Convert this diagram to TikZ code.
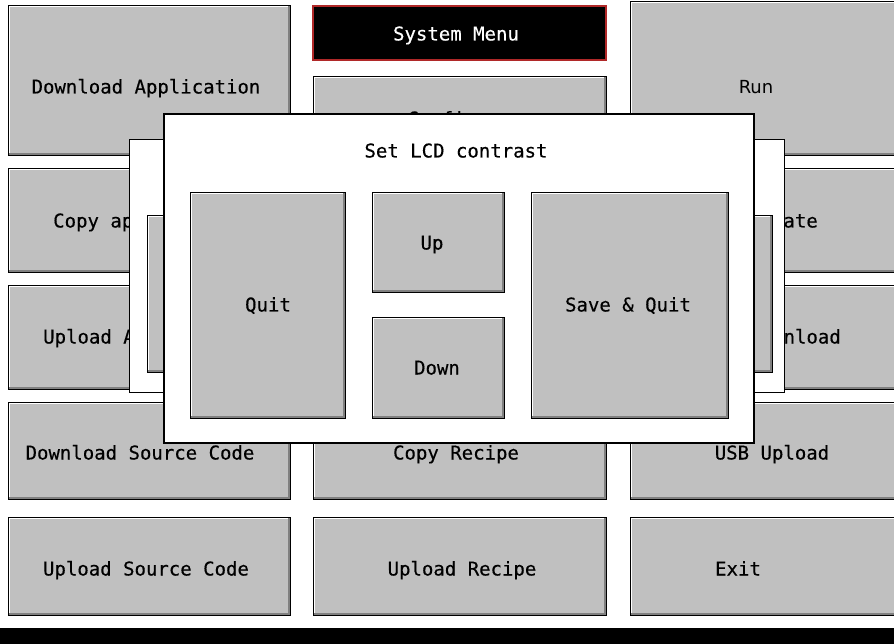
\documentclass[tikz,border=0pt]{standalone}
\usepackage{fontspec}
\newfontfamily\hmimono[FakeBold=0.35]{DejaVu Sans Mono}
\newfontfamily\hmisans{DejaVu Sans}
\definecolor{btngrey}{RGB}{192,192,192}
\definecolor{btnshadow}{RGB}{128,128,128}
\definecolor{menured}{RGB}{176,40,40}
\tikzset{
  hbtn/.style={rectangle, draw=black, line width=1pt, fill=btngrey, inner sep=0pt, outer sep=0pt, anchor=north west,
    path picture={
      \draw[white, line width=3pt] (path picture bounding box.south west) -- (path picture bounding box.north west) -- (path picture bounding box.north east);
      \draw[btnshadow, line width=5pt] (path picture bounding box.south west) -- (path picture bounding box.south east) -- (path picture bounding box.north east);
    }},
  lbl/.style={font=\hmimono\fontsize{19}{19}\selectfont, inner sep=0pt, text height=13pt, text depth=0pt},
  dlg/.style={rectangle, draw=black, fill=white, inner sep=0pt, outer sep=0pt, anchor=north west},
  menubox/.style={rectangle, draw=menured, fill=black, line width=1.2pt, inner sep=0pt, outer sep=0pt, anchor=north west},
}
\begin{document}
\begin{tikzpicture}[x=1pt,y=-1pt]
\useasboundingbox (0,0) rectangle (894,644);
\clip (0,0) rectangle (894,644);
\fill[white] (0,0) rectangle (894,644);

% ---- left column
\node[hbtn, minimum width=282pt, minimum height=150pt] (b-dlapp) at (8,6) {};
\node[hbtn, minimum width=282pt, minimum height=104pt] (b-cpapp) at (8,169) {};
\node[hbtn, minimum width=282pt, minimum height=103pt] (b-upapp) at (8,286) {};
\node[hbtn, minimum width=282pt, minimum height=97pt] (b-dlsrc) at (8,402) {};
\node[hbtn, minimum width=282pt, minimum height=98pt] (b-upsrc) at (8,517) {};
\node[lbl] (t-dlapp) at (146,87) {Download Application};
\node[lbl, anchor=west] (t-cpapp) at (53,221) {Copy application};
\node[lbl, anchor=west] (t-upapp) at (43,337) {Upload Application};
\node[lbl] (t-dlsrc) at (140,453) {Download Source Code};
\node[lbl] (t-upsrc) at (146,569) {Upload Source Code};

% ---- middle column
\node[menubox, minimum width=293pt, minimum height=54pt] (b-menu) at (313,6) {};
\node[lbl, text=white] (t-menu) at (456,34) {System Menu};
\node[hbtn, minimum width=293pt, minimum height=79pt] (b-conf) at (313,77) {};
\node[lbl] (t-conf) at (459,119) {Configure};
\node[hbtn, minimum width=293pt, minimum height=97pt] (b-cprec) at (313,402) {};
\node[hbtn, minimum width=293pt, minimum height=98pt] (b-uprec) at (313,517) {};
\node[lbl] (t-cprec) at (456,453) {Copy Recipe};
\node[lbl] (t-uprec) at (462,569) {Upload Recipe};

% ---- right column
\node[hbtn, minimum width=280pt, minimum height=154pt] (b-run) at (630,2) {};
\node[hbtn, minimum width=280pt, minimum height=104pt] (b-usbupd) at (630,169) {};
\node[hbtn, minimum width=280pt, minimum height=103pt] (b-usbdl) at (630,286) {};
\node[hbtn, minimum width=280pt, minimum height=97pt] (b-usbup) at (630,402) {};
\node[hbtn, minimum width=280pt, minimum height=98pt] (b-exit) at (630,517) {};
\node[lbl, font=\hmisans\fontsize{18}{18}\selectfont] (t-run) at (756,87) {Run};
\node[lbl, anchor=east] (t-usbupd) at (818,221) {USB Update};
\node[lbl, anchor=east] (t-usbdl) at (841,337) {USB Download};
\node[lbl] (t-usbup) at (772,453) {USB Upload};
\node[lbl] (t-exit) at (738,569) {Exit};

% ---- bottom bar
\fill[black] (0,628) rectangle (894,644);

% ---- back dialog
\node[dlg, line width=1pt, minimum width=655pt, minimum height=252pt] (d-back) at (129,140) {};
\node[hbtn, minimum width=153pt, minimum height=156pt] (b-backl) at (147,216) {};
\node[hbtn, minimum width=172pt, minimum height=156pt] (b-backr) at (600,216) {};

% ---- front dialog
\node[dlg, line width=1.5pt, minimum width=590pt, minimum height=329pt] (d-lcd) at (164,114) {};
\node[lbl] (t-lcd) at (456,151) {Set LCD contrast};
\node[hbtn, minimum width=155pt, minimum height=225pt] (b-quit) at (190,193) {};
\node[hbtn, minimum width=132pt, minimum height=100pt] (b-up) at (372,193) {};
\node[hbtn, minimum width=132pt, minimum height=101pt] (b-down) at (372,317) {};
\node[hbtn, minimum width=197pt, minimum height=225pt] (b-save) at (531,193) {};
\node[lbl] (t-quit) at (268,305) {Quit};
\node[lbl] (t-up) at (432,243) {Up};
\node[lbl] (t-down) at (437,368) {Down};
\node[lbl] (t-save) at (628,305) {Save \& Quit};
\end{tikzpicture}
\end{document}
